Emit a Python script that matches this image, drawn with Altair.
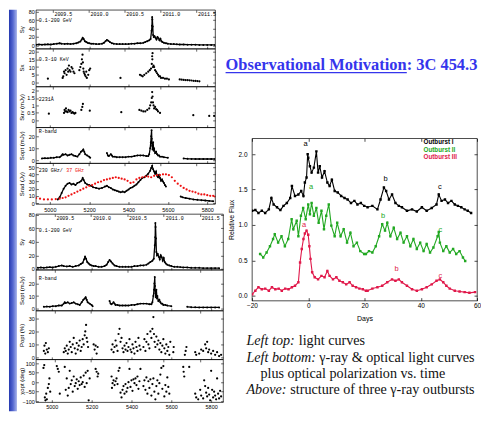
import altair as alt
import pandas as pd

# ----------------------------------------------------------------- data
# light curves, MJD-50000 vs. flux
GAMMA = [(4930,1.5),(4945,2),(4960,1.5),(4975,2),(4990,2.5),(5005,2),(5020,3),(5035,4),(5050,5),(5060,4),
         (5075,3.5),(5090,4),(5105,3),(5120,4),(5135,5),(5145,7),(5155,9),(5162,14),(5167,18),(5172,15),
         (5178,10),(5185,8),(5192,6),(5200,5),(5210,4),(5220,4),(5235,3),(5250,3),(5265,4),(5275,6),
         (5283,10),(5290,13),(5297,11),(5305,8),(5315,5),(5325,4),(5340,3),(5355,3),(5370,3),(5385,3),
         (5400,3),(5415,4),(5430,4),(5445,5),(5460,5),(5475,6),(5485,8),(5495,10),(5505,12),(5512,15),
         (5517,35),(5519,47),(5520,68),(5521,62),(5523,45),(5525,25),(5528,20),(5532,22),(5537,18),(5542,14),
         (5547,20),(5552,17),(5557,12),(5562,16),(5567,10),(5572,8),(5580,6),(5590,5),(5600,4),(5615,3),
         (5630,3),(5645,2.5),(5660,2),(5680,2),(5700,1.5),(5720,1.5),(5740,1.5),(5760,1),(5780,1),(5800,1),
         (5820,1),(5840,1)]
XRAY = [(4990,2.5),(5065,3),(5068,4),(5072,7),(5075,6),(5080,8),(5085,5),(5090,9),(5093,7),(5097,11),
        (5100,8),(5105,7),(5110,10),(5115,9),(5120,7),(5125,6),(5150,8),(5155,10),(5160,12),(5163,15),
        (5166,18),(5168,13),(5170,9),(5172,7),(5175,6),(5178,5),(5182,4),(5185,7),(5188,3),(5195,5),
        (5200,8),(5205,9),(5359,3),(5458,5),(5465,4.5),(5472,4),(5480,5),(5490,6),(5500,7),(5508,8),
        (5514,9),(5518,12),(5520,17),(5521,15),(5522,19),(5524,10),(5527,11),(5530,10),(5535,8),(5540,7),
        (5545,6),(5550,5),(5555,4),(5560,4),(5565,3),(5575,3),(5585,2.5),(5595,2.5),(5605,2),(5660,2),
        (5670,1.8),(5680,1.7),(5690,1.6),(5700,1.5),(5710,1.4),(5720,1.3),(5730,1.1),(5740,1),(5750,0.9),
        (5760,0.8)]
UV = [(4995,0.45),(5072,0.5),(5075,0.7),(5078,0.6),(5082,0.8),(5085,0.6),(5090,0.55),(5095,0.7),(5100,0.6),
      (5105,0.65),(5110,0.5),(5115,0.55),(5120,0.5),(5125,0.45),(5130,0.5),(5160,0.7),(5165,0.9),(5168,1.1),
      (5203,0.65),(5363,0.55),(5455,0.7),(5465,0.65),(5475,0.6),(5485,0.6),(5495,0.7),(5505,0.8),(5510,1.0),
      (5515,1.2),(5518,1.5),(5520,1.9),(5522,1.6),(5524,1.2),(5527,1.0),(5530,0.8),(5535,0.9),(5540,0.75),
      (5545,0.7),(5550,0.6),(5560,0.5),(5729,0.35),(5810,0.3),(5835,0.3)]
RBAND = [(4960,1.5),(4975,1.7),(4990,1.6),(5005,2),(5020,2),(5035,2.5),(5050,2.5),(5060,4),(5065,5),(5070,4.5),
         (5080,5),(5090,4),(5100,4.5),(5110,5),(5120,4),(5130,3.5),(5140,3),(5150,5),(5158,7),(5165,8),
         (5170,9),(5175,7),(5180,5),(5190,4),(5200,3),(5205,2),(5290,6),(5295,4),(5300,3.5),(5310,5),
         (5315,4),(5320,3),(5330,3),(5340,2.5),(5355,2.5),(5370,2.5),(5385,2.5),(5400,3),(5415,3),(5430,3.5),
         (5445,4),(5460,4),(5475,4),(5490,3.5),(5500,3.5),(5505,5),(5510,10),(5513,15),(5515,20),(5517,25),
         (5518,18),(5520,12),(5522,9),(5525,15),(5528,8),(5530,10),(5535,6),(5540,7),(5545,5),(5550,4),
         (5555,4),(5560,3),(5570,3),(5580,2.5),(5600,2),(5680,1.5),(5700,1.2),(5720,1.1),(5740,1),(5760,1),
         (5780,1),(5800,1),(5820,1),(5840,1)]
RAD37 = [(4930,7),(4950,6),(4970,5),(4990,5),(5010,5),(5030,5.5),(5050,6),(5065,7),(5080,8),(5095,10),
         (5110,12),(5125,14),(5140,16),(5155,18),(5170,20),(5185,22),(5200,24),(5215,25),(5230,27),(5245,29),
         (5260,30),(5275,32),(5290,33),(5305,34),(5320,35),(5335,36),(5350,35),(5365,34),(5380,33),(5395,31),
         (5410,28),(5425,29),(5440,33),(5455,35),(5470,36),(5485,37),(5500,37),(5515,36),(5530,38),(5545,39),
         (5560,39),(5575,40),(5590,40),(5605,39),(5620,36),(5635,31),(5650,27),(5665,24),(5680,21),(5695,19),
         (5710,17),(5725,16),(5740,15),(5755,13),(5770,12),(5785,12),(5800,11),(5815,10),(5830,10),(5840,9)]
RAD230 = [(5040,5),(5050,8),(5060,14),(5070,20),(5080,24),(5090,27),(5100,28),(5110,26),(5120,27),(5130,25),
          (5140,28),(5150,29),(5160,31),(5167,35),(5172,32),(5180,28),(5190,26),(5200,25),(5210,24),(5220,22),
          (5235,21),(5250,20),(5265,21),(5280,23),(5290,24),(5300,22),(5310,21),(5320,19),(5330,18),(5340,17),
          (5350,16),(5360,15),(5370,16),(5380,15),(5390,17),(5400,19),(5410,21),(5420,22),(5430,24),(5440,26),
          (5450,29),(5460,32),(5470,35),(5480,36),(5490,38),(5500,41),(5510,45),(5515,49),(5520,52),(5525,47),
          (5530,44),(5535,41),(5540,44),(5545,38),(5550,36),(5555,39),(5560,35),(5565,31),(5570,33),(5575,30),
          (5580,28),(5585,25),(5590,23),(5665,9),(5675,8),(5690,7),(5710,6),(5730,5),(5750,4.5),(5770,4),
          (5790,3.5),(5810,3),(5830,2.5)]
POL = [(4960,5),(4963,9),(4967,3),(4970,11),(4975,6),(4980,4),(4985,7),(5060,4),(5065,7),(5070,5),(5075,9),
       (5080,3),(5085,6),(5090,12),(5095,8),(5100,4),(5105,10),(5110,15),(5115,7),(5120,3),(5125,11),(5130,6),
       (5135,9),(5140,13),(5145,5),(5150,8),(5155,14),(5160,10),(5165,17),(5168,20),(5172,25),(5175,15),
       (5178,12),(5182,8),(5210,10),(5215,6),(5220,9),(5225,3),(5230,8),(5300,6),(5305,10),(5310,4),(5315,8),
       (5320,13),(5325,9),(5330,5),(5335,18),(5340,22),(5345,12),(5350,15),(5355,7),(5360,4),(5365,9),
       (5370,6),(5375,11),(5380,5),(5385,8),(5390,14),(5395,6),(5400,4),(5405,10),(5410,7),(5415,3),(5420,12),
       (5425,8),(5430,5),(5435,15),(5440,9),(5445,6),(5460,8),(5465,14),(5470,5),(5475,12),(5480,18),(5485,10),
       (5490,7),(5495,20),(5500,15),(5505,22),(5510,31),(5513,18),(5516,12),(5520,8),(5525,16),(5530,10),
       (5535,13),(5540,6),(5545,11),(5550,4),(5555,9),(5560,14),(5565,7),(5570,3),(5575,10),(5580,5),(5585,8),
       (5590,2),(5595,12),(5610,4),(5612,8),(5668,2),(5672,5),(5676,8),(5720,4),(5725,2),(5740,3),(5750,6),
       (5760,5),(5770,10),(5775,7),(5780,12),(5785,4),(5790,6),(5800,3),(5810,5),(5820,2),(5830,4),(5840,1),
       (5850,2)]
CHI = [(4958,75),(4962,90),(4965,-80),(4968,-95),(4972,-60),(4975,-90),(4980,-30),(4985,-10),(4988,20),
       (4992,-50),(5025,85),(5030,70),(5035,55),(5040,-60),(5065,80),(5070,-40),(5075,20),(5080,-70),(5085,-30),
       (5090,60),(5095,-10),(5100,10),(5105,-50),(5110,30),(5115,-20),(5120,-5),(5125,15),(5130,-35),(5135,5),
       (5140,-15),(5145,25),(5150,-10),(5155,0),(5160,35),(5165,-25),(5170,50),(5175,-5),(5180,60),(5185,-95),
       (5190,20),(5220,70),(5225,55),(5230,30),(5233,45),(5300,30),(5302,-30),(5305,-5),(5310,10),(5315,-15),
       (5320,5),(5325,20),(5330,-10),(5335,60),(5340,75),(5345,-55),(5350,-80),(5355,-40),(5360,-20),(5365,-60),
       (5370,-10),(5375,-50),(5380,-30),(5385,0),(5390,70),(5395,-25),(5400,10),(5405,-45),(5410,15),(5415,-5),
       (5420,20),(5425,-15),(5430,30),(5435,-35),(5440,5),(5445,70),(5460,-20),(5465,10),(5470,-40),(5475,25),
       (5480,-60),(5485,5),(5490,-30),(5495,15),(5500,-70),(5505,-10),(5510,20),(5515,-50),(5520,-90),
       (5525,-20),(5530,10),(5535,-60),(5540,-5),(5545,40),(5550,75),(5555,-35),(5560,85),(5565,-75),(5570,-15),
       (5575,-50),(5580,25),(5585,-25),(5590,-60),(5660,80),(5662,55),(5665,30),(5690,80),(5720,-60),(5725,-80),
       (5735,-90),(5745,-40),(5750,-70),(5760,-85),(5765,10),(5770,-20),(5775,-55),(5780,-75),(5785,-30),
       (5790,-65),(5795,-95),(5800,60),(5805,-40),(5810,-80),(5815,-50),(5820,-70),(5825,-90),(5830,20),
       (5835,-60),(5840,-85),(5845,-45),(5850,-75)]

YEAR_MJD = [5013, 5197, 5378, 5562, 5743]
YEAR_LABELS = ["2009.5", "2010.0", "2010.5", "2011.0", "2011.5"]
MJD_TICKS = [5000, 5200, 5400, 5600, 5800]

# outbursts: days vs relative flux
OUT1 = [(-19.9,1.20),(-18.8,1.21),(-17.7,1.17),(-16.5,1.20),(-15.3,1.17),(-14.0,1.22),(-13.1,1.38),
        (-12.3,1.29),(-11.1,1.25),(-9.9,1.21),(-8.8,1.27),(-7.6,1.31),(-6.4,1.38),(-5.8,1.55),(-4.7,1.41),
        (-3.5,1.43),(-2.5,1.48),(-1.7,1.41),(-1.2,1.60),(-0.6,1.67),(-0.2,2.0),(0.0,1.95),(0.6,1.83),
        (1.2,1.74),(2.0,1.81),(2.9,2.04),(3.5,1.74),(4.1,1.83),(4.9,1.67),(5.8,1.76),(6.8,1.60),(7.6,1.55),
        (8.4,1.64),(9.4,1.48),(10.5,1.46),(11.7,1.41),(12.9,1.38),(14.0,1.36),(15.2,1.31),(16.4,1.34),
        (17.5,1.29),(18.7,1.31),(19.9,1.27),(21.1,1.25),(22.8,1.27),(24.6,1.22),(25.7,1.36),(26.9,1.53),
        (27.7,1.48),(28.7,1.36),(29.8,1.43),(31.0,1.31),(32.2,1.27),(33.3,1.25),(35.1,1.20),(36.9,1.22),
        (38.6,1.19),(40.4,1.25),(42.1,1.20),(43.9,1.24),(45.6,1.29),(46.4,1.43),(47.4,1.34),(48.6,1.36),
        (49.7,1.31),(50.9,1.34),(52.1,1.29),(53.2,1.27),(54.4,1.25),(55.6,1.22),(56.7,1.20),(57.9,1.17)]
OUT2 = [(-17.1,0.59),(-16.0,0.54),(-14.8,0.61),(-13.6,0.70),(-12.5,0.80),(-11.9,0.87),(-10.7,0.75),
        (-9.5,0.84),(-8.3,0.70),(-7.1,0.80),(-5.9,1.08),(-5.3,0.94),(-4.1,1.06),(-3.5,0.84),(-2.6,1.13),
        (-1.8,1.24),(-0.9,1.08),(0.0,1.29),(0.6,1.15),(1.2,1.31),(2.0,1.13),(2.9,1.24),(3.7,1.03),(4.7,1.20),
        (5.6,0.94),(6.4,1.13),(7.3,1.29),(8.2,0.99),(9.4,0.84),(10.3,1.03),(11.5,0.84),(12.6,0.94),(13.8,0.75),
        (15.0,0.89),(16.1,0.70),(17.3,0.75),(18.5,0.63),(19.9,0.59),(20.5,0.59),(21.6,0.63),(22.8,0.61),
        (24.0,0.70),(25.2,0.84),(26.3,1.01),(27.3,0.92),(28.1,1.03),(29.2,0.84),(30.4,0.96),(31.6,0.80),
        (32.8,0.89),(33.9,0.75),(35.1,0.84),(36.3,0.70),(37.4,0.80),(38.6,0.66),(39.8,0.75),(41.0,0.63),
        (42.1,0.73),(43.3,0.61),(44.5,0.68),(46.0,0.84),(46.4,0.90),(46.8,0.75),(48.0,0.63),(49.1,0.70),
        (50.3,0.61),(51.5,0.66),(52.6,0.59),(53.8,0.63),(55.0,0.54),(55.8,0.49)]
OUT3 = [(-19.9,0.02),(-18.8,0.07),(-17.7,0.12),(-16.5,0.09),(-15.3,0.10),(-14.0,0.07),(-12.9,0.12),
        (-11.7,0.09),(-10.5,0.10),(-9.4,0.07),(-8.2,0.10),(-7.0,0.09),(-5.8,0.12),(-4.7,0.14),(-3.5,0.19),
        (-2.9,0.47),(-2.3,0.66),(-1.7,0.80),(-1.2,0.88),(-0.6,0.92),(0.0,0.86),(0.4,0.70),(0.8,0.52),
        (1.4,0.33),(2.3,0.26),(3.5,0.23),(4.7,0.28),(5.8,0.26),(6.8,0.35),(7.6,0.28),(8.8,0.23),(10.0,0.26),
        (11.1,0.21),(12.3,0.19),(13.5,0.16),(14.7,0.19),(15.8,0.14),(17.0,0.12),(18.2,0.10),(19.4,0.09),
        (20.5,0.07),(21.1,0.07),(22.8,0.10),(24.6,0.12),(26.3,0.14),(28.1,0.19),(29.8,0.23),(31.0,0.21),
        (32.2,0.23),(33.3,0.19),(35.1,0.14),(36.9,0.09),(38.6,0.07),(40.4,0.09),(42.1,0.12),(43.9,0.16),
        (45.6,0.21),(46.8,0.23),(48.0,0.19),(49.1,0.14),(50.3,0.10),(52.1,0.07),(53.8,0.06),(55.6,0.05),
        (57.3,0.04),(59.3,0.05)]
SERIES = ["Outburst I", "Outburst II", "Outburst III"]
SERIES_COLORS = ["#000000", "#22a822", "#e0184a"]
PEAKS = [("a", -0.9, 2.15, "Outburst I"), ("b", 27.5, 1.65, "Outburst I"), ("c", 46.8, 1.53, "Outburst I"),
         ("a", 1.0, 1.53, "Outburst II"), ("b", 26.6, 1.12, "Outburst II"), ("c", 47.0, 0.93, "Outburst II"),
         ("a", -1.5, 1.0, "Outburst III"), ("b", 31.4, 0.38, "Outburst III"), ("c", 47.0, 0.28, "Outburst III")]
LEGEND_DAY = 41.0
LEGEND_FLUX = [2.17, 2.065, 1.955]

TITLE = "Observational Motivation: 3C 454.3"
CAPTION_ITALIC = ["Left top:", "Left bottom:", "", "Above:"]
CAPTION_REGULAR = ["light curves", "\u03b3-ray & optical light curves",
                   "plus optical polarization vs. time", "structure of three \u03b3-ray outbursts"]

# ----------------------------------------------------------------- style / layout
FONT = "Liberation Sans"
MONO = "Liberation Mono"
SERIF = "Liberation Serif"
TITLE_BLUE = "#3535ec"
IN_SMALL = alt.ExprRef(expr="-2.5")
IN_BIG = alt.ExprRef(expr="-3")
TOP_X = [4929, 5840]
BOT_X = [4920, 5860]
LEFT_H = 403
TITLE_X, TITLE_Y, UNDERLINE_W = -26.5, 60.5, 182
CAP_Y = [45, 61.5, 78, 94]
CAP_X_IT = -5.5
CAP_X_REG = [47, 67.5, 8.5, 38.5]
NO_FRAME = alt.ViewBackground(stroke="transparent")

YEAR_EXPR = " : ".join(f"datum.value == {m} ? '{l}'" for m, l in zip(YEAR_MJD, YEAR_LABELS)) + " : ''"


def frame(pairs, gap=60):
    rows, seg, prev = [], 0, None
    for m, v in pairs:
        if prev is not None and m - prev > gap:
            seg += 1
        rows.append({"mjd": m, "v": v, "seg": seg})
        prev = m
    return pd.DataFrame(rows)


def y_left(values, title, fmt):
    return alt.Axis(orient="left", values=values, format=fmt, title=title, labelFont=FONT, labelFontSize=5.5,
                    titleFont=FONT, titleFontSize=6, titleFontWeight="normal", titlePadding=2,
                    minExtent=9, maxExtent=9, tickSize=IN_SMALL, tickWidth=0.6, tickColor="black",
                    labelPadding=4, labelColor="black", titleColor="black", domain=False, grid=False,
                    labelOverlap=False)


def y_right(values):
    return alt.Axis(orient="right", values=values, labels=False, title=None, tickSize=IN_SMALL,
                    tickWidth=0.6, tickColor="black", domain=False, grid=False)


def x_bottom(labels, pad):
    return alt.Axis(orient="bottom", values=MJD_TICKS, format="d", labels=labels, title=None,
                    labelFont=FONT, labelFontSize=5.5, labelColor="black", labelPadding=pad,
                    tickSize=IN_SMALL, tickWidth=0.6, tickColor="black", domain=False, grid=False,
                    labelFlush=False, labelOverlap=False)


def x_top(labels):
    return alt.Axis(orient="top", values=YEAR_MJD, labels=labels, labelExpr=YEAR_EXPR, title=None,
                    labelFont=MONO, labelFontSize=5, labelColor="black", labelBaseline="top",
                    labelAlign="left", labelPadding=1, labelOffset=1.5, tickSize=IN_SMALL,
                    tickWidth=0.6, tickColor="black", domain=False, grid=False, labelFlush=False,
                    labelOverlap=False)


def lc_panel(width, height, xdom, ydom, yticks, ytitle, yfmt, series, notes, note_y,
             top_labels=False, bottom_labels=False, bottom_pad=4.5):
    xs = alt.Scale(domain=xdom, nice=False, zero=False)
    ys = alt.Scale(domain=ydom, nice=False, zero=False)
    layers = []
    first = True
    for pairs, kind, color in series:
        data = frame(pairs)
        base = alt.Chart(data)
        enc = dict(x=alt.X("mjd:Q", scale=xs, axis=x_bottom(bottom_labels, bottom_pad) if first else None),
                   y=alt.Y("v:Q", scale=ys, axis=y_left(yticks, ytitle, yfmt) if first else None))
        plain = dict(x=alt.X("mjd:Q", scale=xs, axis=None), y=alt.Y("v:Q", scale=ys, axis=None))
        if kind == "line":
            layers.append(base.mark_line(color=color, strokeWidth=1.3, clip=True).encode(detail="seg:N", **enc))
            layers.append(base.mark_circle(color=color, size=4, opacity=1, clip=True).encode(**plain))
        else:
            layers.append(base.mark_circle(color=color, size=5, opacity=1, clip=True).encode(**enc))
        first = False
    layers.append(alt.Chart(frame(series[0][0])).mark_point(opacity=0, size=1, clip=True).encode(
        x=alt.X("mjd:Q", scale=xs, axis=x_top(top_labels)),
        y=alt.Y("v:Q", scale=ys, axis=y_right(yticks))))
    nx = 3
    for text, color in notes:
        layers.append(alt.Chart(pd.DataFrame({"t": [text]})).mark_text(
            align="left", baseline="top", font=MONO, fontSize=5, color=color).encode(
            x=alt.value(nx), y=alt.value(note_y), text="t:N"))
        nx += 3.05 * len(text) + 3
    return alt.layer(*layers).resolve_axis(x="independent", y="independent").properties(
        width=width, height=height)


def spacer(width, height):
    return alt.Chart(pd.DataFrame({"a": [0]})).mark_point(opacity=0, size=1).encode(
        x=alt.value(0), y=alt.value(0)).properties(width=width, height=height, view=NO_FRAME)


# ----------------------------------------------------------------- left column
P1 = lc_panel(180, 39, TOP_X, [-8, 85], [0, 20, 40, 60, 80], "S\u03b3", "d",
              [(GAMMA, "line", "black")], [("0.1-200 GeV", "black")], 8, top_labels=True)
P2 = lc_panel(180, 38, TOP_X, [-2.6, 21.9], [0, 5, 10, 15, 20], "Sx", "d",
              [(XRAY, "points", "black")], [("0.3-10 KeV", "black")], 8)
P3 = lc_panel(180, 41, TOP_X, [-0.47, 2.27], [0, 0.5, 1, 1.5, 2], "Suv (mJy)", ".1~f",
              [(UV, "points", "black")], [("2231\u00c5", "black")], 11)
P4 = lc_panel(180, 36, TOP_X, [-2.5, 27.5], [0, 10, 20], "Sopt (mJy)", "d",
              [(RBAND, "line", "black")], [("R-band", "black")], 2)
P5 = lc_panel(180, 41, TOP_X, [-1.4, 55.6], [0, 10, 20, 30, 40, 50], "Srad (Jy)", "d",
              [(RAD230, "line", "black"), (RAD37, "points", "#ee1111")],
              [("230 GHz/", "black"), ("37 GHz", "#ee1111")], 5, bottom_labels=True, bottom_pad=6)
B1 = lc_panel(188, 56, BOT_X, [-1.4, 81.4], [0, 20, 40, 60, 80], "S\u03b3", "d",
              [(GAMMA, "line", "black")], [("0.1-200 GeV", "black")], 14, top_labels=True)
B2 = lc_panel(188, 41, BOT_X, [-1.5, 30.8], [0, 10, 20], "Sopt (mJy)", "d",
              [(RBAND, "line", "black")], [("R-band", "black")], 6)
B3 = lc_panel(188, 49, BOT_X, [-1.5, 36], [0, 10, 20, 30], "Popt (%)", "d",
              [(POL, "points", "black")], [], 4)
B4 = lc_panel(188, 43, BOT_X, [-105, 120], [-100, -50, 0, 50, 100], "\u03c7opt (deg)", "d",
              [(CHI, "points", "black")], [], 4, bottom_labels=True, bottom_pad=5)

left_col = alt.vconcat(P1, P2, P3, P4, P5, spacer(180, 10), B1, B2, B3, B4, spacing=0, bounds="flush")

strip = alt.Chart(pd.DataFrame({"a": [0]})).mark_rect(
    fill=alt.LinearGradient(gradient="linear", x1=0, x2=1, y1=0, y2=0,
                            stops=[alt.GradientStop(color="#2438b0", offset=0),
                                   alt.GradientStop(color="#5568d0", offset=0.5),
                                   alt.GradientStop(color="#a8b4ea", offset=1)])).encode(
    x=alt.value(0), x2=alt.value(8), y=alt.value(0), y2=alt.value(LEFT_H)).properties(
    width=8, height=LEFT_H, view=NO_FRAME)

# ----------------------------------------------------------------- right column
title_df = pd.DataFrame({"t": [TITLE]})
title_view = alt.layer(
    alt.Chart(title_df).mark_text(align="left", baseline="alphabetic", font=SERIF, fontSize=16.5,
                                  fontWeight="bold", color=TITLE_BLUE).encode(
        x=alt.value(TITLE_X), y=alt.value(TITLE_Y), text="t:N"),
    alt.Chart(title_df).mark_rule(color=TITLE_BLUE, strokeWidth=1.3).encode(
        x=alt.value(TITLE_X), x2=alt.value(TITLE_X + UNDERLINE_W), y=alt.value(TITLE_Y + 2.5)),
).properties(width=226, height=129, view=NO_FRAME)

rows = []
for name, pts in zip(SERIES, [OUT1, OUT2, OUT3]):
    for d, f in pts:
        rows.append({"day": d, "flux": f, "series": name})
flux = pd.DataFrame(rows)
peaks = pd.DataFrame(PEAKS, columns=["t", "day", "flux", "series"])
legend = pd.DataFrame({"t": SERIES, "day": [LEGEND_DAY] * 3, "flux": LEGEND_FLUX, "series": SERIES})

rx = alt.Scale(domain=[-20, 60], nice=False, zero=False)
ry = alt.Scale(domain=[-0.07, 2.225], nice=False, zero=False)
cs = alt.Scale(domain=SERIES, range=SERIES_COLORS)

ax_common = dict(labelFont=FONT, labelFontSize=6.5, labelColor="black", titleFont=FONT, titleFontSize=7,
                 titleFontWeight="normal", titleColor="black", tickSize=IN_BIG, tickWidth=0.7,
                 tickColor="black", domain=False, grid=False, labelOverlap=False)
r_left = alt.Axis(orient="left", values=[0, 0.5, 1, 1.5, 2], format=".1f", title="Relative Flux",
                  titlePadding=4, minExtent=14, maxExtent=14, labelPadding=8, **ax_common)
r_bottom = alt.Axis(orient="bottom", values=[-20, 0, 20, 40, 60], format="d", title="Days",
                    titlePadding=5, labelPadding=5, labelFlush=False, **ax_common)
r_top = alt.Axis(orient="top", values=[-20, 0, 20, 40, 60], labels=False, title=None, tickSize=IN_BIG,
                 tickWidth=0.7, tickColor="black", domain=False, grid=False)
r_right = alt.Axis(orient="right", values=[0, 0.5, 1, 1.5, 2], labels=False, title=None, tickSize=IN_BIG,
                   tickWidth=0.7, tickColor="black", domain=False, grid=False)

color_enc = alt.Color("series:N", scale=cs, legend=None)
r_lines = alt.Chart(flux).mark_line(strokeWidth=1.1, clip=True).encode(
    x=alt.X("day:Q", scale=rx, axis=r_bottom), y=alt.Y("flux:Q", scale=ry, axis=r_left),
    color=color_enc, detail="series:N")
r_pts = alt.Chart(flux).mark_point(shape="square", filled=True, size=6, opacity=1, clip=True).encode(
    x=alt.X("day:Q", scale=rx, axis=None), y=alt.Y("flux:Q", scale=ry, axis=None), color=color_enc)
r_peaks = alt.Chart(peaks).mark_text(font=FONT, fontSize=7.5, baseline="middle").encode(
    x=alt.X("day:Q", scale=rx, axis=None), y=alt.Y("flux:Q", scale=ry, axis=None), text="t:N",
    color=color_enc)
r_legend = alt.Chart(legend).mark_text(font=FONT, fontSize=6.3, align="left", baseline="middle",
                                       fontWeight="bold").encode(
    x=alt.X("day:Q", scale=rx, axis=None), y=alt.Y("flux:Q", scale=ry, axis=None), text="t:N",
    color=color_enc)
r_ticks = alt.Chart(flux).mark_point(opacity=0, size=1, clip=True).encode(
    x=alt.X("day:Q", scale=rx, axis=r_top), y=alt.Y("flux:Q", scale=ry, axis=r_right))

right_chart = alt.layer(r_lines, r_pts, r_peaks, r_legend, r_ticks).resolve_axis(
    x="independent", y="independent").properties(width=226, height=163)

cap_df = pd.DataFrame({"it": CAPTION_ITALIC, "reg": CAPTION_REGULAR, "py": CAP_Y,
                       "px_it": [CAP_X_IT] * 4, "px_reg": CAP_X_REG})
caption_view = alt.layer(
    alt.Chart(cap_df).mark_text(align="left", baseline="alphabetic", font=SERIF, fontSize=14.2,
                                fontStyle="italic", color="#111111").encode(
        x=alt.X("px_it:Q", scale=None), y=alt.Y("py:Q", scale=None), text="it:N"),
    alt.Chart(cap_df).mark_text(align="left", baseline="alphabetic", font=SERIF, fontSize=14.2,
                                color="#111111").encode(
        x=alt.X("px_reg:Q", scale=None), y=alt.Y("py:Q", scale=None), text="reg:N"),
).properties(width=226, height=100, view=NO_FRAME)

right_col = alt.vconcat(title_view, right_chart, caption_view, spacing=0, bounds="flush")

chart = alt.hconcat(strip, left_col, right_col, spacing=0).properties(
    padding=0, background="white"
).configure(font=FONT, padding=0).configure_view(stroke="black", strokeWidth=0.7).configure_concat(spacing=0)

chart.save("out.html", embed_options={"renderer": "svg", "actions": False})
